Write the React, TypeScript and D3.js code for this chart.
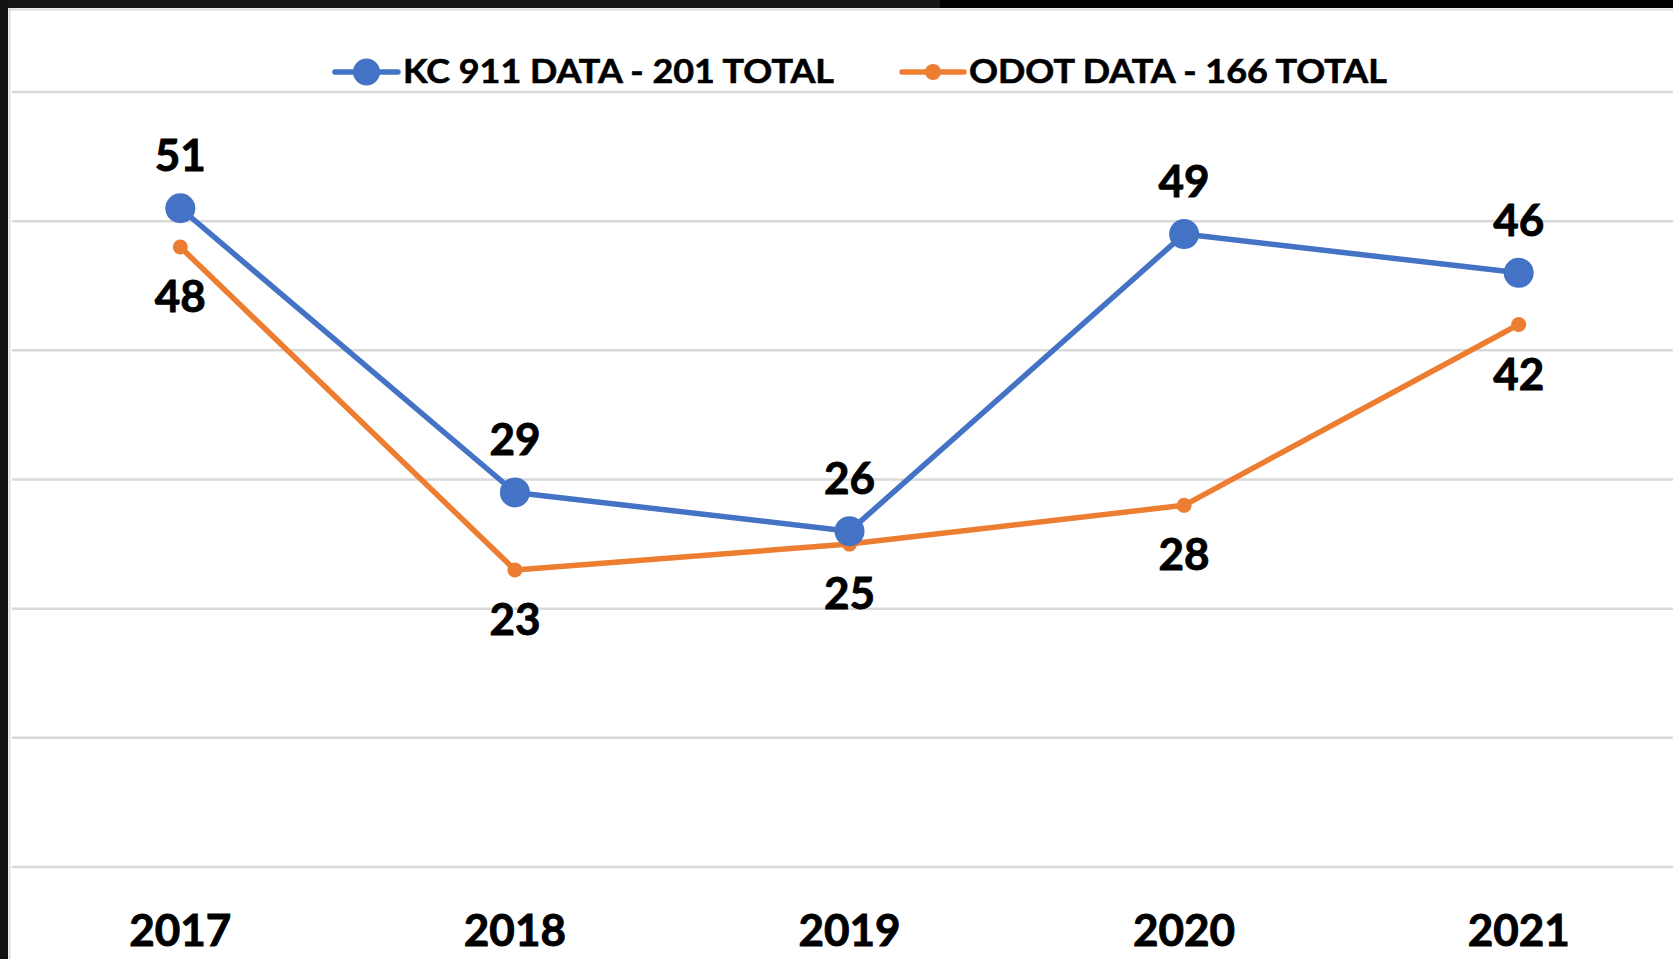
import React, { useRef, useEffect } from 'react';
import * as d3 from 'd3';

const years = ['2017', '2018', '2019', '2020', '2021'];
const kc911 = [51, 29, 26, 49, 46];
const odot = [48, 23, 25, 28, 42];
const legendLabels = ['KC 911 DATA - 201 TOTAL', 'ODOT DATA - 166 TOTAL'];
const gridValues = [0, 10, 20, 30, 40, 50, 60];

const W = 1673;
const H = 959;
const BLUE = '#4472C4';
const ORANGE = '#ED7D31';
const FONT = 'Lato, "Open Sans", sans-serif';

const App = () => {
  const svgRef = useRef<SVGSVGElement>(null);

  useEffect(() => {
    const svg = d3.select(svgRef.current);
    svg.selectAll('*').remove();

    // scales
    const x = d3.scalePoint().domain(years).range([13, 1686]).padding(0.5);
    const y = d3.scaleLinear().domain([0, 60]).range([867, 92]);

    svg.append('rect').attr('width', W).attr('height', H).attr('fill', '#fff');

    // frame
    svg.append('rect').attr('x', 0).attr('y', 0).attr('width', 940).attr('height', 8).attr('fill', '#161616');
    svg.append('rect').attr('x', 940).attr('y', 0).attr('width', W - 940).attr('height', 8).attr('fill', '#000');
    svg.append('rect').attr('x', 0).attr('y', 0).attr('width', 8).attr('height', H).attr('fill', '#111');
    svg.append('line').attr('x1', 9.5).attr('x2', 9.5).attr('y1', 8).attr('y2', H).attr('stroke', '#dcdcdc').attr('stroke-width', 2);
    svg.append('line').attr('x1', 8).attr('x2', W).attr('y1', 9.5).attr('y2', 9.5).attr('stroke', '#dcdcdc').attr('stroke-width', 2);

    // gridlines
    svg
      .selectAll('.grid')
      .data(gridValues)
      .join('line')
      .attr('class', 'grid')
      .attr('x1', 12)
      .attr('x2', W)
      .attr('y1', d => y(d))
      .attr('y2', d => y(d))
      .attr('stroke', '#d9d9d9')
      .attr('stroke-width', 2.5);

    // year labels
    svg
      .selectAll('.year')
      .data(years)
      .join('text')
      .attr('class', 'year')
      .attr('x', d => x(d)!)
      .attr('y', 946)
      .attr('text-anchor', 'middle')
      .attr('font-family', FONT)
      .attr('font-weight', 'bold')
      .attr('font-size', 44)
      .attr('fill', '#000')
      .attr('stroke', '#000')
      .attr('stroke-width', 0.9)
      .text(d => d);

    const line = d3
      .line<number>()
      .x((d, i) => x(years[i])!)
      .y(d => y(d));

    const series = [
      { values: odot, color: ORANGE, r: 7.5, dy: 65 },
      { values: kc911, color: BLUE, r: 15, dy: -37 },
    ];

    series.forEach(s => {
      svg
        .append('path')
        .attr('d', line(s.values))
        .attr('fill', 'none')
        .attr('stroke', s.color)
        .attr('stroke-width', 5.5)
        .attr('stroke-linejoin', 'round');
    });

    series.forEach(s => {
      svg
        .append('g')
        .selectAll('circle')
        .data(s.values)
        .join('circle')
        .attr('cx', (d, i) => x(years[i])!)
        .attr('cy', d => y(d))
        .attr('r', s.r)
        .attr('fill', s.color);

      svg
        .append('g')
        .selectAll('text')
        .data(s.values)
        .join('text')
        .attr('x', (d, i) => x(years[i])!)
        .attr('y', d => y(d) + s.dy)
        .attr('text-anchor', 'middle')
        .attr('font-family', FONT)
        .attr('font-weight', 'bold')
        .attr('font-size', 44)
        .attr('fill', '#000')
        .attr('stroke', '#000')
        .attr('stroke-width', 0.9)
        .text(d => d);
    });

    // legend
    const legend = [
      { label: legendLabels[0], color: BLUE, x0: 335, x1: 398, r: 13.5, tx: 403, tl: 431 },
      { label: legendLabels[1], color: ORANGE, x0: 902, x1: 964, r: 8, tx: 969, tl: 418 },
    ];
    legend.forEach(l => {
      const g = svg.append('g');
      g.append('line')
        .attr('x1', l.x0)
        .attr('x2', l.x1)
        .attr('y1', 72)
        .attr('y2', 72)
        .attr('stroke', l.color)
        .attr('stroke-width', 5.5)
        .attr('stroke-linecap', 'round');
      g.append('circle')
        .attr('cx', (l.x0 + l.x1) / 2)
        .attr('cy', 72)
        .attr('r', l.r)
        .attr('fill', l.color);
      g.append('text')
        .attr('x', l.tx)
        .attr('y', 83)
        .attr('font-family', FONT)
        .attr('font-weight', 'bold')
        .attr('font-size', 33)
        .attr('textLength', l.tl)
        .attr('lengthAdjust', 'spacingAndGlyphs')
        .attr('fill', '#000')
        .attr('stroke', '#000')
        .attr('stroke-width', 0.6)
        .text(l.label);
    });
  }, []);

  return (
    <svg
      ref={svgRef}
      width={W}
      height={H}
      style={{ position: 'absolute', left: 0, top: 0, display: 'block' }}
    />
  );
};

export default App;
